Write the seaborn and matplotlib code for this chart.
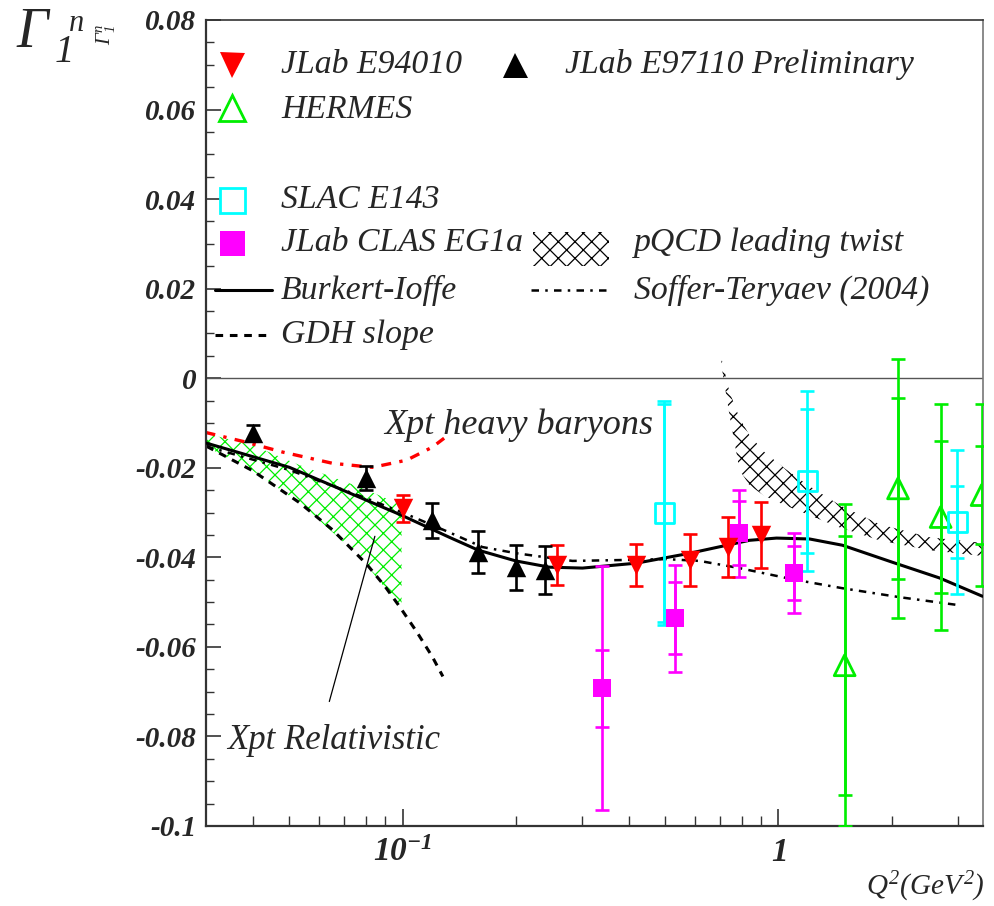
import numpy as np
import pandas as pd
import matplotlib
matplotlib.use("Agg")
import matplotlib.pyplot as plt
import seaborn as sns
from matplotlib.ticker import FixedLocator, FuncFormatter, NullFormatter
from matplotlib.patches import Rectangle

# ---------------- data ----------------
e94010_q2 = [0.100, 0.258, 0.419, 0.580, 0.732, 0.901]
e94010_g1 = [-0.0290, -0.0417, -0.0417, -0.0406, -0.0377, -0.0350]
e94010_err = [0.0030, 0.0045, 0.0047, 0.0057, 0.0066, 0.0074]

e97110_q2 = [0.040, 0.080, 0.120, 0.159, 0.200, 0.240]
e97110_g1 = [-0.0123, -0.0223, -0.0317, -0.0388, -0.0422, -0.0429]
e97110_err = [0.0018, 0.0027, 0.0039, 0.0046, 0.0050, 0.0054]

hermes_q2 = [1.50, 2.08, 2.70, 3.47]
hermes_g1 = [-0.0641, -0.0246, -0.0310, -0.0261]
hermes_stat = [0.0289, 0.0202, 0.0170, 0.0110]
hermes_tot = [0.0360, 0.0290, 0.0252, 0.0204]

slac_q2 = [0.497, 1.194, 2.99]
slac_g1 = [-0.0301, -0.0230, -0.0321]
slac_stat = [0.0243, 0.0161, 0.0080]
slac_tot = [0.0250, 0.0201, 0.0161]

clas_q2 = [0.340, 0.532, 0.787, 1.103]
clas_g1 = [-0.0692, -0.0536, -0.0346, -0.0435]
clas_stat = [0.0086, 0.0080, 0.0072, 0.0060]
clas_tot = [0.0272, 0.0119, 0.0097, 0.0089]

bi_q2 = [0.0301, 0.050, 0.0994, 0.133, 0.159, 0.200, 0.246, 0.301, 0.419,
         0.580, 0.837, 0.988, 1.21, 1.48, 2.01, 2.68, 3.49]
bi_g1 = [-0.0145, -0.0199, -0.0306, -0.0355, -0.0384, -0.0408, -0.0422, -0.0424,
         -0.0413, -0.0391, -0.0362, -0.0357, -0.0359, -0.0373, -0.0411, -0.0446, -0.0487]

st_q2 = [0.030, 0.050, 0.080, 0.100, 0.133, 0.163, 0.201, 0.283, 0.385, 0.504,
         0.617, 0.787, 1.09, 1.48, 2.10, 3.03]
st_g1 = [-0.0152, -0.0205, -0.0268, -0.0300, -0.0344, -0.0377, -0.0391, -0.0408,
         -0.0406, -0.0404, -0.0408, -0.0424, -0.0449, -0.0469, -0.0489, -0.0507]

gdh_q2 = [0.0301, 0.040, 0.0532, 0.065, 0.0802, 0.090, 0.0982, 0.109, 0.120, 0.128]
gdh_g1 = [-0.0152, -0.0207, -0.0278, -0.0338, -0.0415, -0.0466, -0.0510, -0.0566,
          -0.0622, -0.0666]

hb_q2 = [0.0299, 0.038, 0.048, 0.0651, 0.0832, 0.1025, 0.120, 0.129]
hb_g1 = [-0.0121, -0.0142, -0.0165, -0.0190, -0.0199, -0.0183, -0.0154, -0.0134]

rel_q2 = [0.0299, 0.040, 0.0532, 0.0769, 0.0994]
rel_upper = [-0.0123, -0.0150, -0.0194, -0.0243, -0.0283]
rel_lower = [-0.0152, -0.0207, -0.0278, -0.0398, -0.0514]

pqcd_q2 = [0.705, 0.741, 0.788, 0.837, 0.918, 1.037, 1.209, 1.453, 1.856, 2.52, 3.49]
pqcd_upper = [0.0045, -0.0031, -0.0089, -0.0127, -0.0165, -0.0201, -0.0241,
              -0.0283, -0.0326, -0.0355, -0.0368]
pqcd_lower = [0.0029, -0.0083, -0.0205, -0.0239, -0.0263, -0.0283, -0.0306,
              -0.0333, -0.0362, -0.0384, -0.0397]

y_major = [-0.1, -0.08, -0.06, -0.04, -0.02, 0.0, 0.02, 0.04, 0.06, 0.08]
x_major = [0.1, 1.0]
x_major_labels = [r"$\mathbf{10^{-1}}$", r"$\mathbf{1}$"]

legend_labels = ["JLab E94010", "JLab E97110 Preliminary", "HERMES", "SLAC E143",
                 "JLab CLAS EG1a", "pQCD leading twist", "Burkert-Ioffe",
                 "Soffer-Teryaev (2004)", "GDH slope"]

# ---------------- style ----------------
sns.set_theme(style="ticks")
plt.rcParams["font.family"] = ["Liberation Serif", "DejaVu Serif"]
plt.rcParams["mathtext.fontset"] = "custom"
plt.rcParams["mathtext.rm"] = "Liberation Serif:italic"
plt.rcParams["mathtext.it"] = "Liberation Serif:italic"
plt.rcParams["mathtext.bf"] = "Liberation Serif:italic:bold"
plt.rcParams["hatch.linewidth"] = 0.9

RED, GREEN, CYAN, MAG = "#ff0000", "#00ee00", "#00ffff", "#ff00ff"
SERIF_IT = dict(family="Liberation Serif", style="italic")
LEG_FS = 24.3

fig = plt.figure(figsize=(9.94, 9.06), dpi=100)
W, H = 994, 906
ax = fig.add_axes([206 / W, 80 / H, 777 / W, 806 / H])
ax.set_xscale("log")
ax.set_xlim(0.03, 3.5)
ax.set_ylim(-0.1, 0.08)

# bands
ax.fill_between(rel_q2, rel_lower, rel_upper, facecolor="none", edgecolor=GREEN,
                hatch="xx", linewidth=0, zorder=1)
ax.fill_between(pqcd_q2, pqcd_lower, pqcd_upper, facecolor="none", edgecolor="black",
                hatch="xx", linewidth=0, zorder=1)

ax.axhline(0, color="#555555", lw=1.0, zorder=1)

# curves
sns.lineplot(x=hb_q2, y=hb_g1, ax=ax, color=RED, lw=2.4, sort=False, estimator=None,
             linestyle=(0, (3, 2.5, 1, 2.5)), zorder=2)
sns.lineplot(x=gdh_q2, y=gdh_g1, ax=ax, color="black", lw=2.2, sort=False,
             estimator=None, linestyle=(0, (2.5, 2.2)), zorder=2)
sns.lineplot(x=st_q2, y=st_g1, ax=ax, color="black", lw=1.8, sort=False,
             estimator=None, linestyle=(0, (3, 2.5, 1, 2.5)), zorder=2)
sns.lineplot(x=bi_q2, y=bi_g1, ax=ax, color="black", lw=2.2, sort=False,
             estimator=None, zorder=3)

# error bars
CAP = 5
def ebars(x, y, tot, stat, col):
    ax.errorbar(x, y, yerr=tot, fmt="none", ecolor=col, elinewidth=1.9,
                capsize=CAP, capthick=1.9, zorder=4)
    if stat is not None:
        ax.errorbar(x, y, yerr=stat, fmt="none", ecolor=col, elinewidth=1.9,
                    capsize=CAP, capthick=1.9, zorder=4)

ebars(hermes_q2, hermes_g1, hermes_tot, hermes_stat, GREEN)
ebars(slac_q2, slac_g1, slac_tot, slac_stat, CYAN)
ebars(clas_q2, clas_g1, clas_tot, clas_stat, MAG)
ebars(e94010_q2, e94010_g1, e94010_err, None, RED)
ebars(e97110_q2, e97110_g1, e97110_err, None, "black")

# markers
sns.scatterplot(x=hermes_q2, y=hermes_g1, ax=ax, marker="^", s=15 ** 2,
                facecolor="none", edgecolor=GREEN, linewidth=2, zorder=5)
sns.scatterplot(x=slac_q2, y=slac_g1, ax=ax, marker="s", s=14 ** 2,
                facecolor="none", edgecolor=CYAN, linewidth=2, zorder=5)
sns.scatterplot(x=clas_q2, y=clas_g1, ax=ax, marker="s", s=13 ** 2,
                color=MAG, edgecolor=MAG, linewidth=0, zorder=5)
sns.scatterplot(x=e94010_q2, y=e94010_g1, ax=ax, marker="v", s=14 ** 2,
                color=RED, edgecolor=RED, linewidth=0, zorder=5)
sns.scatterplot(x=e97110_q2, y=e97110_g1, ax=ax, marker="^", s=14 ** 2,
                color="black", edgecolor="black", linewidth=0, zorder=5)

# annotations
ax.text(0.0896, -0.0105, "Xpt heavy baryons", fontsize=26, ha="left", va="center",
        **SERIF_IT)
ax.annotate("Xpt Relativistic", xy=(0.0844, -0.0353), xytext=(0.0342, -0.0808),
            fontsize=25, ha="left", va="center", **SERIF_IT,
            arrowprops=dict(arrowstyle="-", color="black", lw=0.9,
                            relpos=(0.45, 1.0), shrinkA=14, shrinkB=0))

# ---------------- legend (drawn in axes fraction) ----------------
def ax_pt(px, py):
    return (px - 206) / 777, (826 - py) / 806

def leg_marker(px, py, marker, ms, fc, ec, mew=0):
    x, y = ax_pt(px, py)
    ax.plot([x], [y], marker=marker, ms=ms, mfc=fc, mec=ec, mew=mew, ls="none",
            transform=ax.transAxes, clip_on=False, zorder=6)

def leg_line(px0, px1, py, **kw):
    x0, y = ax_pt(px0, py)
    x1, _ = ax_pt(px1, py)
    ax.plot([x0, x1], [y, y], color="black", transform=ax.transAxes,
            clip_on=False, zorder=6, **kw)

def leg_text(px, py, s):
    x, y = ax_pt(px, py)
    ax.text(x, y, s, transform=ax.transAxes, fontsize=LEG_FS, ha="left",
            va="center", **SERIF_IT)

leg_marker(232, 65, "v", 18, RED, RED)
leg_text(281, 65, legend_labels[0])
leg_marker(515, 65, "^", 18, "black", "black")
leg_text(565, 65, legend_labels[1])
leg_marker(232, 108, "^", 19, "none", GREEN, 2)
leg_text(281, 110, legend_labels[2])
leg_marker(232, 200, "s", 18, "none", CYAN, 2)
leg_text(281, 200, legend_labels[3])
leg_marker(232, 243, "s", 18, MAG, MAG)
leg_text(281, 243, legend_labels[4])
x0, y0 = ax_pt(533, 266)
x1, y1 = ax_pt(609, 232)
ax.add_patch(Rectangle((x0, y0), x1 - x0, y1 - y0, transform=ax.transAxes,
                       facecolor="none", edgecolor="black", hatch="xx", lw=0))
leg_text(634, 243, legend_labels[5])
leg_line(215, 272, 290, lw=2.2)
leg_text(281, 290, legend_labels[6])
leg_line(531, 607, 290, lw=1.8, linestyle=(0, (3, 2.5, 1, 2.5)))
leg_text(634, 290, legend_labels[7])
leg_line(215, 272, 335, lw=2.2, linestyle=(0, (2.5, 2.2)))
leg_text(281, 335, legend_labels[8])

# ---------------- axes cosmetics ----------------
for sp in ax.spines.values():
    sp.set_visible(True)
    sp.set_color("#333333")
    sp.set_linewidth(1.6)
ax.spines["top"].set_linewidth(1.2)
ax.spines["right"].set_linewidth(1.2)
ax.spines["right"].set_color("#777777")

ax.xaxis.set_major_locator(FixedLocator(x_major))
ax.xaxis.set_major_formatter(FuncFormatter(
    lambda v, p: x_major_labels[x_major.index(min(x_major, key=lambda t: abs(t - v)))]))
ax.xaxis.set_minor_locator(FixedLocator([0.04, 0.05, 0.06, 0.07, 0.08, 0.09,
                                         0.2, 0.3, 0.4, 0.5, 0.6, 0.7, 0.8, 0.9,
                                         2, 3]))
ax.xaxis.set_minor_formatter(NullFormatter())
ax.yaxis.set_major_locator(FixedLocator(y_major))
ax.yaxis.set_minor_locator(FixedLocator(np.arange(-0.1, 0.0801, 0.005)))

def yfmt(v, p):
    if abs(v) < 1e-9:
        return "0"
    return "%g" % round(v, 3)
ax.yaxis.set_major_formatter(FuncFormatter(yfmt))

ax.tick_params(axis="both", which="both", direction="in", top=False, right=False,
               color="#333333")
ax.tick_params(axis="y", which="major", length=11, width=1.2, pad=7, labelsize=21)
ax.tick_params(axis="y", which="minor", length=6, width=1.0)
ax.tick_params(axis="x", which="major", length=12, width=1.2, pad=8, labelsize=24)
ax.tick_params(axis="x", which="minor", length=7, width=1.0)
ax.set_xlabel("")
ax.set_ylabel("")

# y-axis symbols
fig.text(16 / W, 1 - 47 / H, "\u0393", fontsize=40, ha="left", va="baseline",
         **SERIF_IT)
fig.text(55 / W, 1 - 62 / H, "1", fontsize=28, ha="left", va="baseline", **SERIF_IT)
fig.text(69 / W, 1 - 31 / H, "n", fontsize=22, ha="left", va="baseline", **SERIF_IT)
fig.text(106 / W, 1 - 35 / H, r"$\Gamma_{1}^{n}$", fontsize=15,
         rotation=90, ha="center", va="center")

fig.text(985 / W, 1 - 895 / H, r"$Q^2(GeV^2)$", fontsize=21, ha="right",
         va="baseline")

fig.canvas.draw()
for lbl in ax.get_yticklabels():
    lbl.set_fontweight("bold")
    lbl.set_fontstyle("italic")

fig.savefig("out.png", dpi=100)
